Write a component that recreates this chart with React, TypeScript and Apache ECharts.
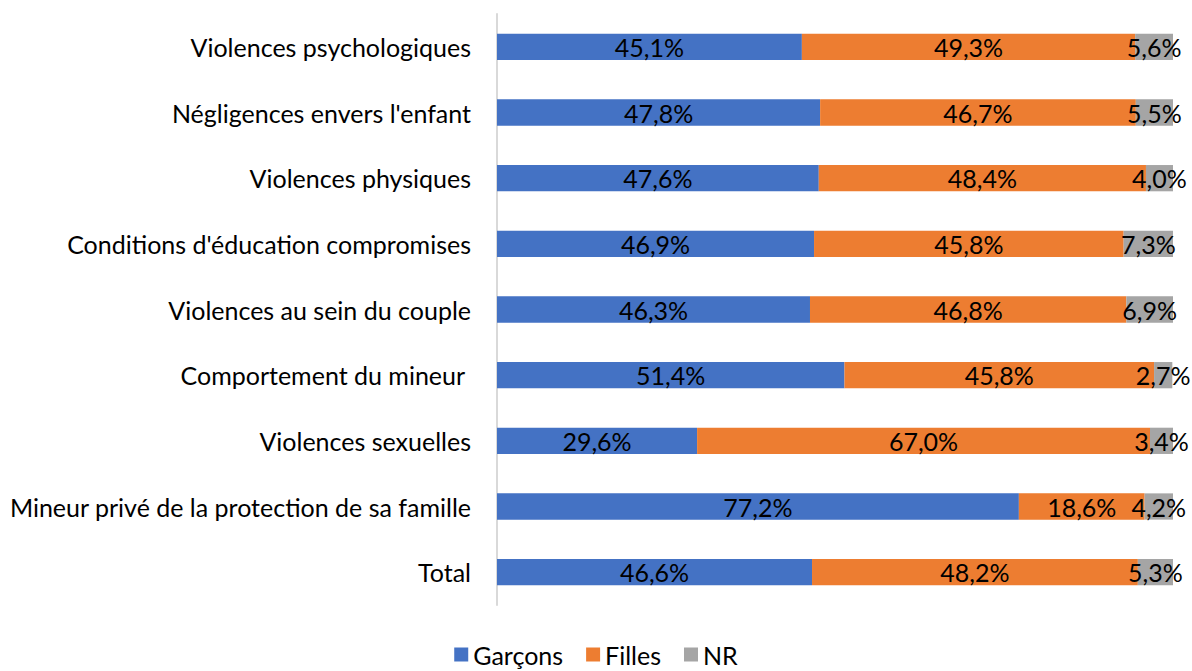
import React, { useEffect, useRef } from "react";
import * as echarts from "echarts";

const categories = [
  "Violences psychologiques",
  "Négligences envers l'enfant",
  "Violences physiques",
  "Conditions d'éducation compromises",
  "Violences au sein du couple",
  "Comportement du mineur ",
  "Violences sexuelles",
  "Mineur privé de la protection de sa famille",
  "Total",
];
const garcons = [45.1, 47.8, 47.6, 46.9, 46.3, 51.4, 29.6, 77.2, 46.6];
const filles = [49.3, 46.7, 48.4, 45.8, 46.8, 45.8, 67.0, 18.6, 48.2];
const nr = [5.6, 5.5, 4.0, 7.3, 6.9, 2.7, 3.4, 4.2, 5.3];
const seriesNames = ["Garçons", "Filles", "NR"];
const colors = ["#4472C4", "#ED7D31", "#A5A5A5"];

const FONT = "Lato, 'Open Sans', sans-serif";
const FS = 25;

export default function App() {
  const ref = useRef<HTMLDivElement>(null);
  useEffect(() => {
    if (!ref.current) return;
    const chart = echarts.init(ref.current, undefined, { renderer: "svg" });
    const fmt = (p: any) => p.value.toFixed(1).replace(".", ",") + "%";
    const mk = (name: string, data: number[], color: string) => ({
      name,
      type: "bar",
      stack: "total",
      data,
      barWidth: "40%",
      itemStyle: { color },
      label: {
        show: true,
        position: "inside",
        formatter: fmt,
        color: "#000",
        fontSize: FS,
        fontFamily: FONT,
      },
    });
    chart.setOption({
      animation: false,
      textStyle: { fontFamily: FONT },
      grid: { left: 497, right: 19, top: 14, bottom: 66, containLabel: false },
      xAxis: {
        type: "value",
        min: 0,
        max: 100,
        show: false,
      },
      yAxis: {
        type: "category",
        inverse: true,
        data: categories,
        axisLine: { show: true, lineStyle: { color: "#D9D9D9", width: 2 } },
        axisTick: { show: false },
        axisLabel: { color: "#000", fontSize: FS, margin: 26, fontFamily: FONT },
      },
      legend: {
        bottom: 4,
        left: "center",
        padding: [0, 5, 0, 5],
        itemWidth: 14,
        itemHeight: 14,
        itemGap: 23,
        icon: "rect",
        textStyle: { color: "#000", fontSize: FS, fontFamily: FONT, lineHeight: 25 },
        data: seriesNames,
      },
      series: [
        mk(seriesNames[0], garcons, colors[0]),
        mk(seriesNames[1], filles, colors[1]),
        mk(seriesNames[2], nr, colors[2]),
      ],
    });
    return () => chart.dispose();
  }, []);
  return (
    <div
      ref={ref}
      style={{ position: "fixed", left: 0, top: 0, width: 1192, height: 671, background: "#fff" }}
    />
  );
}
